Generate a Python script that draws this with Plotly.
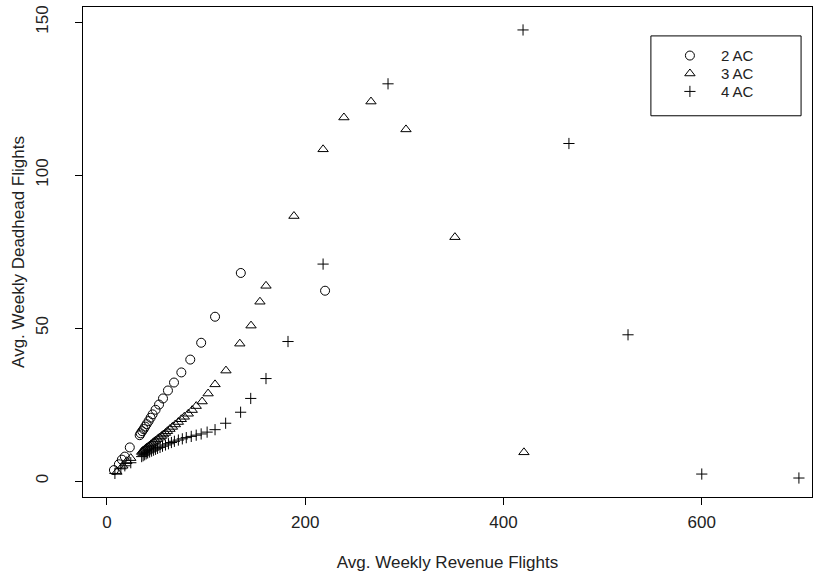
import plotly.graph_objects as go

# 2 AC (circles)
ac2_x = [7, 12, 15, 18, 23, 33, 34, 35.5, 37, 38.5, 40, 42, 44, 46, 49, 52.5, 56.5, 61.5, 67.6, 75, 84, 95, 109, 135, 220]
ac2_y = [3.6, 5.5, 7, 8, 11, 15, 15.6, 16.3, 17, 17.8, 18.6, 19.6, 20.7, 21.8, 23.3, 25, 27, 29.6, 32.2, 35.5, 39.7, 45.2, 53.7, 68, 62.2]

# 3 AC (triangles)
ac3_x = [10, 16, 20, 24, 35, 36, 37, 38, 39, 40, 41.5, 43, 44.5, 46, 47.5, 49, 51, 53, 55, 57, 59, 61, 63.5, 66, 69, 72, 75, 78, 82, 86, 90, 96, 102, 109, 120, 134, 145.3, 154.3, 160.4, 188.6, 218, 239, 266.3, 301.6, 351, 420.6]
ac3_y = [3, 5, 6.5, 7.5, 9.5, 9.8, 10, 10.3, 10.6, 10.9, 11.2, 11.6, 12, 12.4, 12.8, 13.2, 13.7, 14.2, 14.7, 15.2, 15.7, 16.3, 17, 17.7, 18.5, 19.3, 20.2, 21, 22, 23.2, 24.5, 26, 28.6, 31.6, 36.1, 44.9, 50.8, 58.6, 63.8, 86.6, 108.4, 118.8, 124, 114.9, 79.7, 9.4]

# 4 AC (plus)
ac4_x = [8, 14, 18, 24, 35, 36.5, 38, 39.5, 41, 43, 45, 47, 49, 51, 53.5, 56, 59, 62, 65, 68, 72, 76, 80, 85, 90, 95, 101, 109, 119.7, 134.8, 145, 160.4, 182.6, 218, 283.5, 419.7, 466, 525.6, 600, 698]
ac4_y = [2.5, 4, 5, 6, 8, 8.3, 8.6, 8.9, 9.2, 9.5, 9.8, 10.1, 10.4, 10.7, 11, 11.4, 11.8, 12.2, 12.6, 13, 13.4, 13.8, 14.2, 14.6, 15, 15.4, 16, 16.8, 18.9, 22.5, 27, 33.5, 45.6, 70.9, 129.8, 147.4, 110.3, 47.8, 2.3, 1]

series_names = ["2 AC", "3 AC", "4 AC"]
x_ticks = [0, 200, 400, 600]
y_ticks = [0, 50, 100, 150]

FONT = "Liberation Sans, Arial, Helvetica, sans-serif"
TXT = "#222222"
AX_SIZE = 17
marker_line = dict(color="black", width=1)

fig = go.Figure()
fig.add_trace(go.Scatter(x=ac2_x, y=ac2_y, mode="markers", name=series_names[0], legend="legend",
                         marker=dict(symbol="circle-open", size=9, color="black", line=marker_line)))
fig.add_trace(go.Scatter(x=ac3_x, y=ac3_y, mode="markers", name=series_names[1], legend="legend2",
                         marker=dict(symbol="triangle-up-open", size=9, color="black", line=marker_line)))
fig.add_trace(go.Scatter(x=ac4_x, y=ac4_y, mode="markers", name=series_names[2], legend="legend3",
                         marker=dict(symbol="cross-thin-open", size=8, color="black", line=marker_line)))

def leg(yv):
    return dict(x=0.79, y=yv, xanchor="left", yanchor="middle",
                bgcolor="rgba(0,0,0,0)", borderwidth=0,
                itemwidth=52, font=dict(size=15, color=TXT, family=FONT))

fig.update_layout(
    width=825, height=579,
    margin=dict(l=83, r=13, t=5, b=82),
    paper_bgcolor="white", plot_bgcolor="white",
    font=dict(family=FONT, size=AX_SIZE, color=TXT),
    showlegend=True,
    legend=leg(0.9004),
    legend2=leg(0.8638),
    legend3=leg(0.8272),
    shapes=[dict(type="rect", xref="paper", yref="paper",
                 x0=0.779, x1=0.985, y0=0.778, y1=0.941,
                 line=dict(color="black", width=1))],
)
fig.update_xaxes(range=[-24.2, 711.2], tickvals=x_ticks, showline=True, mirror=True,
                 linecolor="black", linewidth=1, ticks="outside", ticklen=7,
                 tickcolor="black", showgrid=False, zeroline=False,
                 tickfont=dict(size=AX_SIZE, color=TXT), ticklabelstandoff=3,
                 title=dict(text="Avg. Weekly Revenue Flights", standoff=24,
                            font=dict(size=AX_SIZE, color=TXT)))
fig.update_yaxes(range=[-5.2, 154.9], tickvals=y_ticks, showline=True, mirror=True,
                 linecolor="black", linewidth=1, ticks="outside", ticklen=7,
                 tickcolor="black", showgrid=False, zeroline=False, tickangle=-90,
                 tickfont=dict(size=AX_SIZE, color=TXT), ticklabelstandoff=20,
                 title=dict(text="Avg. Weekly Deadhead Flights", standoff=4,
                            font=dict(size=AX_SIZE, color=TXT)))

fig.write_html("out.html")
